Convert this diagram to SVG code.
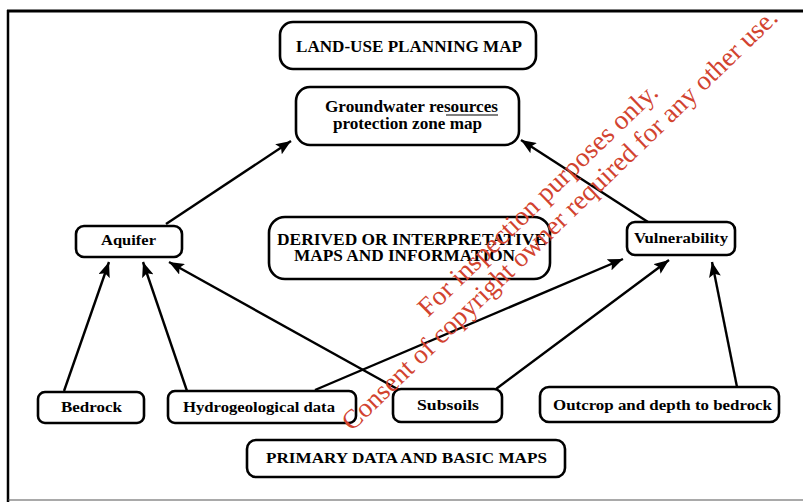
<svg xmlns="http://www.w3.org/2000/svg" width="803" height="502" viewBox="0 0 803 502">
<style>
.box{fill:#fff;stroke:#000;stroke-width:2.6}
.t{font-family:"Liberation Serif","Times New Roman",serif;font-weight:bold;fill:#000;text-anchor:middle}
.c{stroke:#000;stroke-width:2.4;fill:none;marker-end:url(#ah)}
.wm{font-family:"Liberation Serif","Times New Roman",serif;font-size:27px;fill:#d2432f}
</style>
<defs>
<marker id="ah" markerUnits="userSpaceOnUse" markerWidth="16" markerHeight="12" refX="15" refY="6" orient="auto">
<path d="M0,0 L15,6 L0,12 L3,6 z" fill="#000"/>
</marker>
</defs>
<rect width="803" height="502" fill="#fff"/>
<g id="frame" stroke="#000" fill="none">
<line x1="7" y1="11" x2="803" y2="11" stroke-width="3"/>
<line x1="8" y1="10" x2="8" y2="502" stroke-width="2.5"/>
<line x1="8" y1="500" x2="803" y2="500" stroke-width="1.2" stroke="#555"/>
</g>
<g id="connectors">
<line class="c" x1="166" y1="224" x2="291" y2="141"/>
<line class="c" x1="648" y1="222" x2="521" y2="140"/>
<line class="c" x1="64" y1="391" x2="109" y2="262"/>
<line class="c" x1="187" y1="391" x2="143" y2="262"/>
<line class="c" x1="401" y1="391" x2="169" y2="262"/>
<line class="c" x1="315" y1="390" x2="623" y2="259"/>
<line class="c" x1="496" y1="389" x2="669" y2="260"/>
<line class="c" x1="737" y1="387" x2="712" y2="262"/>
</g>
<g id="landuse">
<rect class="box" x="280" y="22" width="256" height="47" rx="13"/>
<text class="t" x="409" y="52" font-size="17" textLength="226" lengthAdjust="spacingAndGlyphs">LAND-USE PLANNING MAP</text>
</g>
<g id="groundwater">
<rect class="box" x="296" y="87" width="223" height="58" rx="14"/>
<text class="t" x="411.5" y="112" font-size="16" textLength="173" lengthAdjust="spacingAndGlyphs">Groundwater resources</text>
<line x1="446" y1="115" x2="498" y2="115" stroke="#000" stroke-width="1.2"/>
<text class="t" x="407.5" y="129" font-size="16" textLength="149" lengthAdjust="spacingAndGlyphs">protection zone map</text>
</g>
<g id="derived">
<rect class="box" x="269" y="217" width="281" height="62" rx="16"/>
<text class="t" x="411.5" y="245" font-size="16" textLength="269" lengthAdjust="spacingAndGlyphs">DERIVED OR INTERPRETATIVE</text>
<text class="t" x="404.5" y="261" font-size="16" textLength="221" lengthAdjust="spacingAndGlyphs">MAPS AND INFORMATION</text>
</g>
<g id="aquifer">
<rect class="box" x="76" y="226" width="106" height="31" rx="8"/>
<text class="t" x="128.5" y="245" font-size="15" textLength="55" lengthAdjust="spacingAndGlyphs">Aquifer</text>
</g>
<g id="vulnerability">
<rect class="box" x="627" y="222" width="108" height="33" rx="8"/>
<text class="t" x="681" y="243" font-size="15" textLength="94" lengthAdjust="spacingAndGlyphs">Vulnerability</text>
</g>
<g id="bedrock">
<rect class="box" x="38" y="392" width="106" height="31" rx="7"/>
<text class="t" x="91.5" y="412" font-size="15" textLength="61" lengthAdjust="spacingAndGlyphs">Bedrock</text>
</g>
<g id="hydro">
<rect class="box" x="168" y="391" width="188" height="32" rx="7"/>
<text class="t" x="259" y="412" font-size="15" textLength="152" lengthAdjust="spacingAndGlyphs">Hydrogeological data</text>
</g>
<g id="subsoils">
<rect class="box" x="393" y="389" width="109" height="33" rx="8"/>
<text class="t" x="448" y="410" font-size="15" textLength="62" lengthAdjust="spacingAndGlyphs">Subsoils</text>
</g>
<g id="outcrop">
<rect class="box" x="540" y="387" width="239" height="35" rx="9"/>
<text class="t" x="662.5" y="410" font-size="15" textLength="219" lengthAdjust="spacingAndGlyphs">Outcrop and depth to bedrock</text>
</g>
<g id="primary">
<rect class="box" x="247" y="440" width="318" height="37" rx="9"/>
<text class="t" x="406.5" y="463" font-size="15" textLength="281" lengthAdjust="spacingAndGlyphs">PRIMARY DATA AND BASIC MAPS</text>
</g>
<g id="watermark">
<text class="wm" transform="translate(428,318) rotate(-44)" textLength="322" lengthAdjust="spacingAndGlyphs">For inspection purposes only.</text>
<text class="wm" transform="translate(352,432) rotate(-44)" textLength="594" lengthAdjust="spacingAndGlyphs">Consent of copyright owner required for any other use.</text>
</g>
</svg>
